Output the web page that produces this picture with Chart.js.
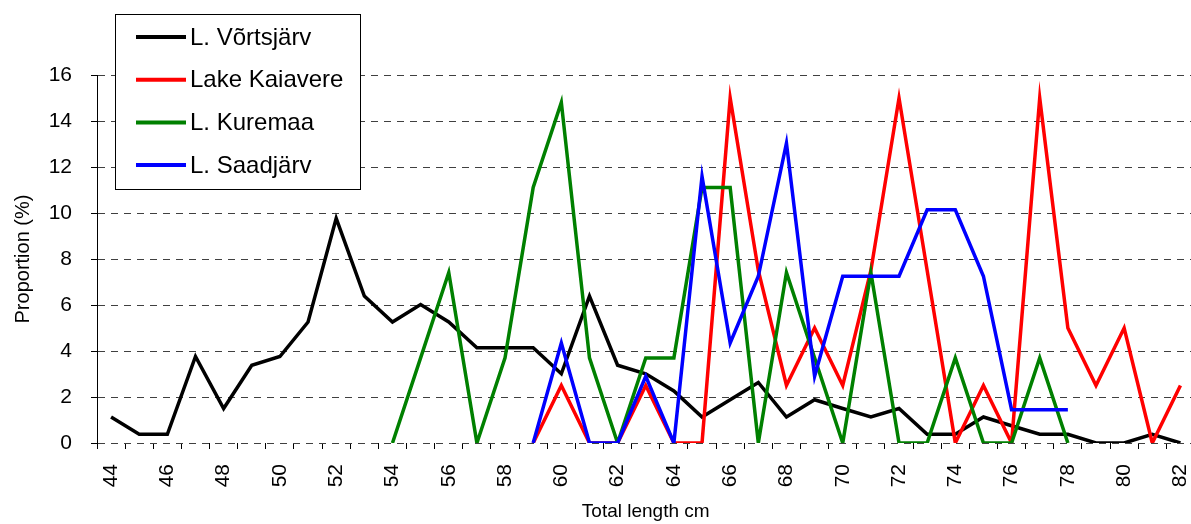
<!DOCTYPE html>
<html>
<head>
<meta charset="utf-8">
<script src="https://cdn.jsdelivr.net/npm/chart.js@4/dist/chart.umd.min.js"></script>
<style>
  html, body { margin: 0; padding: 0; background: #fff; overflow: hidden; }
  canvas { display: block; }
</style>
</head>
<body>
<canvas id="grafico" width="1196" height="524"></canvas>
<script>
// total length classes (cm)
const comprimentos = [44, 45, 46, 47, 48, 49, 50, 51, 52, 53, 54, 55, 56, 57, 58, 59, 60, 61, 62, 63,
  64, 65, 66, 67, 68, 69, 70, 71, 72, 73, 74, 75, 76, 77, 78, 79, 80, 81, 82];

const vortsjarv = [1.13, 0.38, 0.38, 3.76, 1.50, 3.38, 3.76, 5.26, 9.77, 6.39, 5.26, 6.02, 5.26, 4.14, 4.14, 4.14, 3.01, 6.39, 3.38, 3.01,
  2.26, 1.13, 1.88, 2.63, 1.13, 1.88, 1.50, 1.13, 1.50, 0.38, 0.38, 1.13, 0.75, 0.38, 0.38, 0, 0, 0.38, 0];

const kaiavere = [null, null, null, null, null, null, null, null, null, null, null, null, null, null, null, 0, 2.5, 0, 0, 2.5,
  0, 0, 15, 7.5, 2.5, 5, 2.5, 7.5, 15, 7.5, 0, 2.5, 0, 15, 5, 2.5, 5, 0, 2.5];

const kuremaa = [null, null, null, null, null, null, null, null, null, null, 0, 3.7, 7.41, 0, 3.7, 11.11, 14.81, 3.7, 0, 3.7,
  3.7, 11.11, 11.11, 0, 7.41, 3.7, 0, 7.41, 0, 0, 3.7, 0, 0, 3.7, 0, null, null, null, null];

const saadjarv = [null, null, null, null, null, null, null, null, null, null, null, null, null, null, null, 0, 4.35, 0, 0, 2.9,
  0, 11.59, 4.35, 7.25, 13.04, 2.9, 7.25, 7.25, 7.25, 10.14, 10.14, 7.25, 1.45, 1.45, 1.45, null, null, null, null];

const fonte = 'Liberation Sans, Arial, sans-serif';

// legend box drawn by hand (it sits partly above the plot area)
const legendaCaixa = {
  id: 'legendaCaixa',
  afterDraw(chart) {
    const ctx = chart.ctx;
    ctx.save();
    ctx.fillStyle = '#fff';
    ctx.fillRect(115, 14, 245, 175);
    ctx.strokeStyle = '#000';
    ctx.lineWidth = 1;
    ctx.strokeRect(115.5, 14.5, 245, 175);
    ctx.font = '24px ' + fonte;
    ctx.textBaseline = 'middle';
    ctx.textAlign = 'left';
    chart.data.datasets.forEach((ds, i) => {
      const y = 37 + i * 42.7;
      ctx.strokeStyle = ds.borderColor;
      ctx.lineWidth = 4;
      ctx.beginPath();
      ctx.moveTo(136, y);
      ctx.lineTo(186, y);
      ctx.stroke();
      ctx.fillStyle = '#000';
      ctx.fillText(ds.label, 190, y + 1);
    });
    ctx.restore();
  }
};

new Chart(document.getElementById('grafico').getContext('2d'), {
  type: 'line',
  data: {
    labels: comprimentos,
    datasets: [
      { label: 'L. Võrtsjärv', data: vortsjarv, borderColor: '#000000', order: 3 },
      { label: 'Lake Kaiavere', data: kaiavere, borderColor: '#FF0000', order: 2 },
      { label: 'L. Kuremaa', data: kuremaa, borderColor: '#008000', order: 1 },
      { label: 'L. Saadjärv', data: saadjarv, borderColor: '#0000FF', order: 0 }
    ]
  },
  options: {
    responsive: false,
    animation: false,
    devicePixelRatio: 1,
    layout: { padding: { top: 75, right: 1.5, bottom: 0, left: 0 } },
    elements: {
      line: { borderWidth: 3.5, tension: 0, fill: false },
      point: { radius: 0, hoverRadius: 0 }
    },
    scales: {
      x: {
        offset: true,
        grid: { offset: true, drawOnChartArea: false, drawTicks: true, tickLength: 6, tickColor: '#000' },
        border: { display: false },
        ticks: {
          autoSkip: false,
          minRotation: 90,
          maxRotation: 90,
          padding: 15,
          color: '#000',
          font: { family: fonte, size: 21 },
          callback: function(value, index) {
            const c = comprimentos[index];
            return c % 2 === 0 ? String(c) : '';
          }
        },
        title: {
          display: true,
          text: 'Total length cm',
          color: '#000',
          font: { family: fonte, size: 19 },
          padding: { top: 0, bottom: 1 }
        },
        afterFit: function(scale) {
          scale.height = 81;
          scale.paddingLeft = 0;
          scale.paddingRight = 0;
        }
      },
      y: {
        min: 0,
        max: 16,
        ticks: {
          stepSize: 2,
          padding: 19,
          color: '#000',
          font: { family: fonte, size: 21 }
        },
        grid: { color: '#404040', lineWidth: 1, tickLength: 6, tickColor: '#000', tickBorderDash: [] },
        border: { display: true, color: '#000', width: 1, dash: [7, 6] },
        title: {
          display: true,
          text: 'Proportion (%)',
          color: '#000',
          font: { family: fonte, size: 20 },
          padding: { top: 11, bottom: 0 }
        },
        afterFit: function(scale) { scale.width = 97; }
      }
    },
    plugins: {
      legend: { display: false },
      tooltip: { enabled: false }
    }
  },
  plugins: [legendaCaixa]
});
</script>
</body>
</html>
